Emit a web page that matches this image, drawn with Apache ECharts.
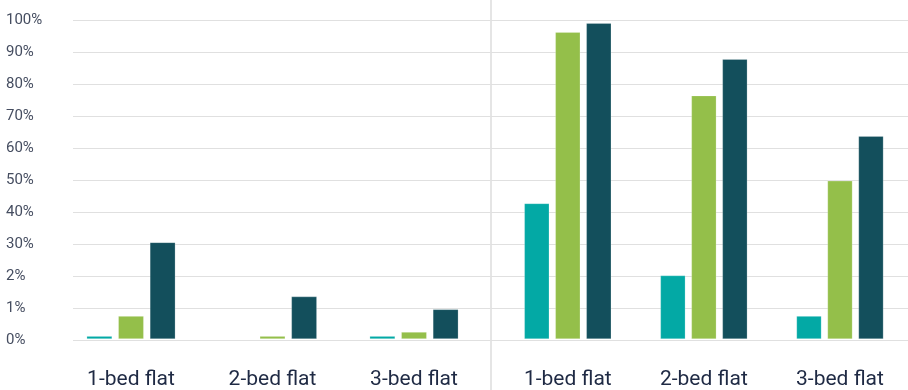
<!DOCTYPE html>
<html>
<head>
<meta charset="utf-8">
<script src="https://cdn.jsdelivr.net/npm/echarts@6/dist/echarts.min.js"></script>
<style>
html,body{margin:0;padding:0;background:#fff;}
#c{width:908px;height:390px;}
</style>
</head>
<body>
<div id="c"></div>
<script>
// Categories for the two panels
const categoriesLeft = ['1-bed flat', '2-bed flat', '3-bed flat'];
const categoriesRight = ['1-bed flat', '2-bed flat', '3-bed flat'];
// Y tick labels as printed on the chart (axis runs 0..100 in steps of 10)
const yTickLabels = ['0%', '1%', '2%', '30%', '40%', '50%', '60%', '70%', '80%', '90%', '100%'];
// Series values in axis units (0..100)
const tealLeft = [0.9, 0, 0.9];
const greenLeft = [7.2, 0.9, 2.2];
const darkLeft = [30.3, 13.3, 9.3];
const tealRight = [42.5, 19.9, 7.2];
const greenRight = [96.2, 76.3, 49.6];
const darkRight = [99.0, 87.7, 63.6];

const colors = ['#03a9a5', '#94bf4a', '#134f5c'];
const chart = echarts.init(document.getElementById('c'), null, {renderer: 'canvas'});

const TOP = 20, BOTTOM = 50;
const hiddenY = (gi) => ({
  type: 'value', gridIndex: gi, min: 0, max: 100, interval: 10,
  show: false
});
const catX = (gi, cats) => ({
  type: 'category', gridIndex: gi, data: cats,
  axisLine: {show: false}, axisTick: {show: false}, splitLine: {show: false},
  axisLabel: {margin: 30, fontSize: 21, fontFamily: 'Roboto', color: '#1f2a44'}
});
const barSeries = (name, xi, data, color, bw) => ({
  name, type: 'bar', xAxisIndex: xi, yAxisIndex: xi, data,
  barWidth: bw, barGap: '24%',
  itemStyle: {color, borderColor: 'rgba(255,255,255,0.35)', borderWidth: 0.6},
  emphasis: {disabled: true}, animation: false
});

chart.setOption({
  animation: false,
  grid: [
    {left: 73, right: 0, top: TOP, bottom: BOTTOM},
    {left: 60.25, width: 424.5, top: TOP, bottom: BOTTOM},
    {left: 499.75, width: 415.5, top: TOP, bottom: BOTTOM}
  ],
  xAxis: [
    {type: 'value', gridIndex: 0, min: 0, max: 1, show: false},
    catX(1, categoriesLeft),
    catX(2, categoriesRight)
  ],
  yAxis: [
    {
      type: 'value', gridIndex: 0, min: 0, max: 100, interval: 10,
      axisLine: {show: false}, axisTick: {show: false},
      splitLine: {lineStyle: {color: '#e0e0e0', width: 1}},
      axisLabel: {
        align: 'left', margin: 67, fontSize: 15, fontFamily: 'Roboto',
        color: '#454d60',
        formatter: (v) => yTickLabels[Math.round(v / 10)]
      }
    },
    hiddenY(1),
    hiddenY(2)
  ],
  series: [
    barSeries('Teal', 1, tealLeft, colors[0], 25.5),
    barSeries('Green', 1, greenLeft, colors[1], 25.5),
    barSeries('Dark', 1, darkLeft, colors[2], 25.5),
    barSeries('Teal', 2, tealRight, colors[0], 25),
    barSeries('Green', 2, greenRight, colors[1], 25),
    barSeries('Dark', 2, darkRight, colors[2], 25)
  ],
  graphic: [{
    type: 'line', shape: {x1: 491, y1: 0, x2: 491, y2: 390},
    style: {stroke: '#dcdcdc', lineWidth: 1.5}, silent: true
  }]
});
</script>
</body>
</html>
